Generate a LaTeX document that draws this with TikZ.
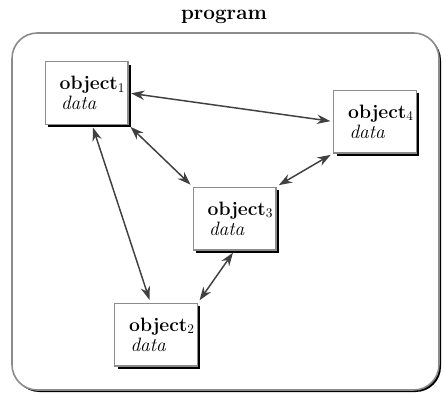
\documentclass[tikz,border=0pt]{standalone}
\usetikzlibrary{arrows.meta,shadows}
\newcommand{\objtext}[1]{\hspace*{9pt}\textbf{object$_{#1}$}\\ \hspace*{10pt}\textit{data}}

\begin{document}
\begin{tikzpicture}[x=0.75pt,y=-0.75pt,
		objbox/.style={draw=black!45,line width=1pt,fill=white,
			minimum width=62pt,minimum height=47pt,align=left,inner sep=1pt,
			font=\fontsize{14.5}{15}\selectfont,
			drop shadow={shadow xshift=2.2pt,shadow yshift=-2.2pt,fill=black,opacity=1}},
		link/.style={{Stealth[length=10pt,width=7pt]}-{Stealth[length=10pt,width=7pt]},
			draw=black!75,line width=1.1pt,shorten <=2pt,shorten >=2pt}]
			\useasboundingbox (0,0) rectangle (444,394);
			% program frame
			\draw[rounded corners=19pt,draw=black!45,line width=1.2pt,fill=white,
				drop shadow={shadow xshift=1.5pt,shadow yshift=-1.5pt,fill=black,opacity=1}]
				(12,33) rectangle (439,390);
			\node (title) at (224,17) {\fontsize{15.5}{16}\selectfont\bfseries program};
			% objects
			\node[objbox] (o1) at (86.5,93) {\objtext{1}};
			\node[objbox] (o4) at (375,121.5) {\objtext{4}};
			\node[objbox] (o3) at (234.5,218.5) {\objtext{3}};
			\node[objbox] (o2) at (156,334.5) {\objtext{2}};
			% messages
			\draw[link] (o1.east) -- (o4.west);
			\draw[link] (o1.south east) -- (o3.north west);
			\draw[link] (o4.south west) -- (o3.north east);
			\draw[link] (o1.-80) -- (o2.100);
			\draw[link] (o3.south) -- (o2.north east);
		\end{tikzpicture}
\end{document}
